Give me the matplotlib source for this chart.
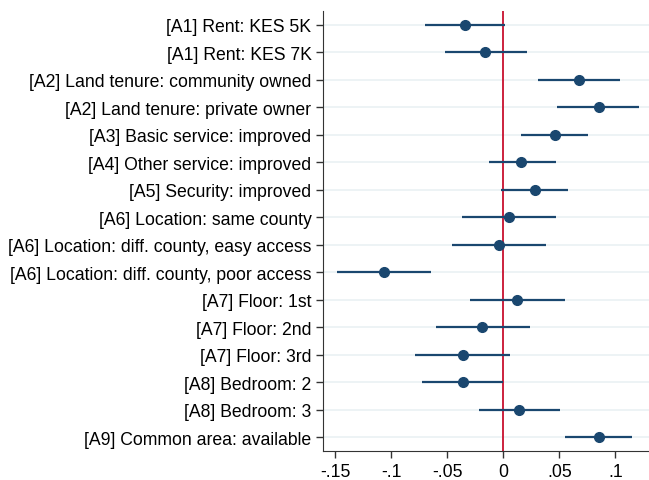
import matplotlib
matplotlib.use('Agg')
from matplotlib import pyplot as plt

plt.rcParams['font.family'] = ['Liberation Sans', 'DejaVu Sans']

labels = [
    '[A1] Rent: KES 5K',
    '[A1] Rent: KES 7K',
    '[A2] Land tenure: community owned',
    '[A2] Land tenure: private owner',
    '[A3] Basic service: improved',
    '[A4] Other service: improved',
    '[A5] Security: improved',
    '[A6] Location: same county',
    '[A6] Location: diff. county, easy access',
    '[A6] Location: diff. county, poor access',
    '[A7] Floor: 1st',
    '[A7] Floor: 2nd',
    '[A7] Floor: 3rd',
    '[A8] Bedroom: 2',
    '[A8] Bedroom: 3',
    '[A9] Common area: available',
]
coef = [-0.034, -0.016, 0.068, 0.085, 0.046, 0.016, 0.028, 0.005,
        -0.004, -0.106, 0.012, -0.019, -0.036, -0.036, 0.014, 0.085]
ci_low = [-0.070, -0.052, 0.031, 0.048, 0.016, -0.013, -0.002, -0.037,
          -0.046, -0.148, -0.030, -0.060, -0.079, -0.072, -0.022, 0.055]
ci_high = [0.002, 0.021, 0.104, 0.121, 0.076, 0.047, 0.058, 0.047,
           0.038, -0.064, 0.055, 0.024, 0.006, 0.000, 0.051, 0.115]
xticks = [-0.15, -0.1, -0.05, 0, 0.05, 0.1]
xticklabels = ['-.15', '-.1', '-.05', '0', '.05', '.1']

navy = '#1a476f'
n = len(labels)
ypos = [n - i for i in range(n)]

fig = plt.figure(figsize=(6.49, 4.81), dpi=100)
ax = fig.add_axes([0.498, 0.060, 0.502, 0.915])

for y in ypos:
    ax.axhline(y, color='#eaf1f3', lw=1.2, zorder=0)
ax.hlines(ypos, ci_low, ci_high, color=navy, lw=1.6, zorder=2)
ax.plot(coef, ypos, 'o', color=navy, ms=7, zorder=3)
ax.axvline(0, color='#c8102e', lw=1.3, zorder=1)

ax.set_xlim(-0.1605, 0.130)
ax.set_ylim(0.5, n + 0.5)
ax.set_yticks(ypos)
ax.set_yticklabels(labels, fontsize=12.7)
ax.set_xticks(xticks)
ax.set_xticklabels(xticklabels, fontsize=12.7)
ax.tick_params(direction='out', length=5, color='#333333', width=1)
ax.spines['top'].set_visible(False)
ax.spines['right'].set_visible(False)
for s in ['left', 'bottom']:
    ax.spines[s].set_color('#333333')

fig.savefig('out.png', dpi=100)
